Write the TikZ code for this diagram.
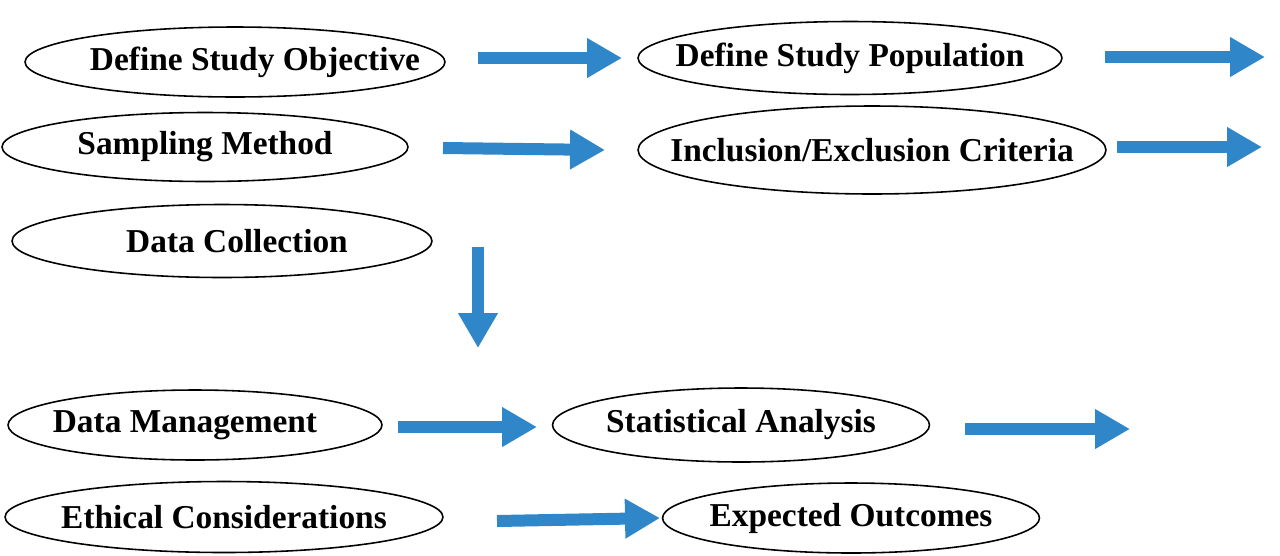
\documentclass[tikz,border=0pt]{standalone}
\usepackage{fontspec}
\setmainfont{Liberation Serif}
\usetikzlibrary{arrows.meta}
\usetikzlibrary{shapes.geometric}
\definecolor{flowblue}{HTML}{2F86C9}
\tikzset{
    stage/.style={
        draw,
        ellipse,
        line width=0.9pt,
        inner xsep=-2cm,
        inner ysep=-0.5cm,
        font=\fontsize{19}{21}\selectfont\bfseries
    },
    flow/.style={
        draw=flowblue,
        line width=0.24cm,
        -{Triangle[length=0.7cm, width=0.75cm]}
    }
}
\begin{document}
\begin{tikzpicture}[x=0.02cm, y=-0.02cm]
    \useasboundingbox (0,0) rectangle (1280,555);
    % Stages
    \node[stage, minimum width=8.4cm, minimum height=1.4cm] (obj) at (235,62) {\hspace*{0.8cm}Define Study Objective};
    \node[stage, minimum width=8.48cm, minimum height=1.46cm] (pop) at (850,58) {Define Study Population};
    \node[stage, minimum width=8.12cm, minimum height=1.38cm] (samp) at (205,147) {Sampling Method};
    \node[stage, minimum width=9.36cm, minimum height=1.76cm] (crit) at (872,150) {Inclusion/Exclusion Criteria};
    \node[stage, minimum width=8.4cm, minimum height=1.46cm] (coll) at (222,241) {\hspace*{0.6cm}Data Collection};
    \node[stage, minimum width=7.48cm, minimum height=1.4cm] (mgmt) at (195,425) {\hspace*{-0.4cm}Data Management};
    \node[stage, minimum width=7.54cm, minimum height=1.48cm] (stat) at (741,425) {Statistical Analysis};
    \node[stage, minimum width=8.76cm, minimum height=1.42cm] (eth) at (224,517) {Ethical Considerations};
    \node[stage, minimum width=7.54cm, minimum height=1.4cm] (out) at (851,518) {Expected Outcomes};

    % Arrow ends
    \coordinate (a1s) at (478,58);  \coordinate (a1e) at (622,58);
    \coordinate (a2s) at (1105,57); \coordinate (a2e) at (1265,57);
    \coordinate (a3s) at (443,148); \coordinate (a3e) at (605,150);
    \coordinate (a4s) at (1117,147); \coordinate (a4e) at (1262,147);
    \coordinate (a5s) at (478,247); \coordinate (a5e) at (478,348);
    \coordinate (a6s) at (398,427); \coordinate (a6e) at (537,427);
    \coordinate (a7s) at (965,429); \coordinate (a7e) at (1130,429);
    \coordinate (a8s) at (497,521); \coordinate (a8e) at (660,518);

    % Arrows
    \foreach \i in {1,...,8}
        \draw[flow] (a\i s) -- (a\i e);
\end{tikzpicture}
\end{document}
